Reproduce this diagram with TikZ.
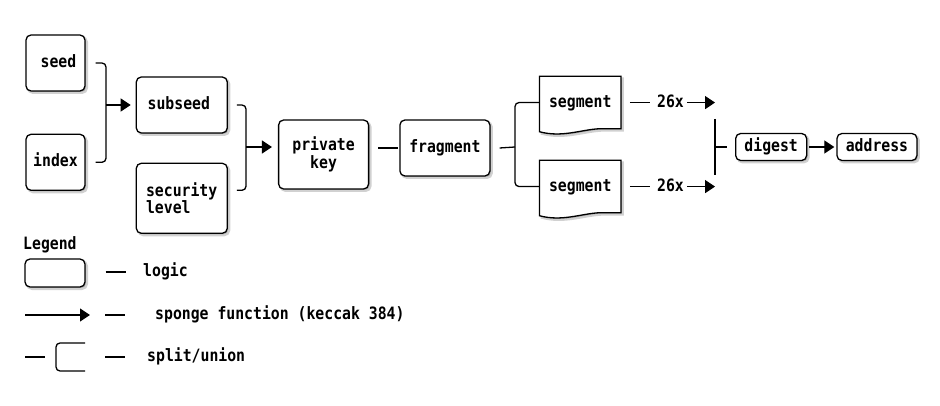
\documentclass[tikz,border=0pt]{standalone}
\usepackage{fontspec}
\setmonofont[FakeStretch=0.87]{DejaVu Sans Mono}
\usepackage{tikz}
\usetikzlibrary{positioning}
\usetikzlibrary{arrows.meta}
\tikzstyle{wire} = [line width=1.3pt]
\tikzstyle{arrow} = [line width=1.3pt,-{Triangle[length=10pt,width=13pt]}]
\tikzstyle{fork} = [line width=1.3pt,rounded corners=4pt]
\tikzstyle{shade} = [preaction={draw=black!18,line width=2pt,fill=black!30,transform canvas={shift={(2pt,-2pt)}}}]
\tikzstyle{logicbox} = [shade,draw,line width=1.3pt,rounded corners=5pt,fill=white,inner sep=0pt,align=center]
\tikzstyle{docshape} = [shade,draw,line width=1.3pt,fill=white]
\tikzstyle{word} = [inner sep=0pt,text height=12pt,text depth=3pt]

\begin{document}
\begin{tikzpicture}[x=1pt,y=-1pt,font=\ttfamily\bfseries\fontsize{17}{14}\selectfont]
	\useasboundingbox (0,0) rectangle (940,406);

	%Nodes
	\node[logicbox,word,minimum width=59pt,minimum height=56pt] (seed) at (55.5,63) {\hspace{6pt}seed};
	\node[logicbox,word,minimum width=59pt,minimum height=56pt,below=42pt of seed] (index) {index};
	\node[logicbox,word,minimum width=91pt,minimum height=56pt,below right=42pt and 50pt of seed.north east] (subseed) {subseed\hspace{6pt}};
	\node[logicbox,align=left,minimum width=91pt,minimum height=70pt,below=29pt of subseed] (seclevel) {security\\level\hspace{27pt}\hbox{}};
	\node[logicbox,minimum width=90pt,minimum height=69pt,below right=43pt and 50pt of subseed.north east] (pkey) {private\\key};
	\node[logicbox,word,minimum width=90pt,minimum height=56pt,below right=0pt and 30pt of pkey.north east] (fragment) {fragment};

	\node[word,minimum width=81pt,minimum height=52pt,below right=-43pt and 49pt of fragment.north east] (seg1) {};
	\node[word,minimum width=81pt,minimum height=52pt,below right=41pt and 49pt of fragment.north east] (seg2) {};

	\node[word,right=36pt of seg1.east] (rep1) {26x};
	\node[word,right=36pt of seg2.east] (rep2) {26x};

	\coordinate (j1) at (106,105);
	\coordinate (j2) at (246,147);
	\coordinate (j3) at (515,147);
	\coordinate (j4) at (715,147);

	\node[logicbox,word,minimum width=71pt,minimum height=27pt,right=20pt of j4] (digest) {digest};
	\node[logicbox,word,minimum width=80pt,minimum height=27pt,right=29pt of digest] (address) {address};

	%Segments
	\foreach \s in {seg1,seg2}{
		\path[docshape] (\s.north west) -- (\s.north east) -- (\s.south east) -- ([xshift=-22pt]\s.south east)
			.. controls ([xshift=-40pt,yshift=-1pt]\s.south east) and ([xshift=22pt,yshift=-9pt]\s.south west) .. ([yshift=-3pt]\s.south west) -- cycle;
	}
	\node[word] at (seg1.center) {segment};
	\node[word] at (seg2.center) {segment};

	%Lines
	\draw[fork] ([xshift=10pt]seed.east) -| (j1) |- ([xshift=10pt]index.east);
	\draw[arrow] (j1) -- ([xshift=-5pt]subseed.west);
	\draw[fork] ([xshift=9pt]subseed.east) -| (j2) |- ([xshift=9pt,yshift=8pt]seclevel.east);
	\draw[arrow,shorten >=6pt] (j2) -- (j2 -| pkey.west);
	\draw[wire] ([xshift=9pt]pkey.east |- fragment.west) -- ([xshift=-1pt]fragment.west);
	\draw[wire] ([xshift=9pt]fragment.east) -- (j3);
	\draw[fork] (seg1.west) -| (j3) |- (seg2.west);
	\draw[wire] ([xshift=9pt]seg1.east) -- ([xshift=-7pt]rep1.west);
	\draw[wire] ([xshift=9pt]seg2.east) -- ([xshift=-7pt]rep2.west);
	\draw[arrow] ([xshift=3pt]rep1.east) -- ([xshift=31pt]rep1.east);
	\draw[arrow] ([xshift=3pt]rep2.east) -- ([xshift=31pt]rep2.east);
	\draw[wire] ([yshift=28pt]j4) -- ([yshift=-28pt]j4);
	\draw[wire] (j4) -- ([xshift=-8pt]digest.west);
	\draw[arrow,shorten <=2pt,shorten >=2pt] (digest) -- (address);

	%Legend
	\node[word,anchor=west] (legend) at (23,245) {Legend};
	\node[logicbox,minimum width=60pt,minimum height=28pt] (lgbox) at (55,273) {};
	\node[word,anchor=west] (lglogic) at (143,272) {logic};
	\draw[wire] ([xshift=20pt]lgbox.east |- lglogic.west) -- ([xshift=40pt]lgbox.east |- lglogic.west);

	\coordinate (a0) at (25,315);
	\coordinate (a1) at (90,315);
	\draw[arrow] (a0) -- (a1);
	\node[word,anchor=west] (lgsponge) at (155,315) {sponge function (keccak 384)};
	\draw[wire] ([xshift=15pt]a1) -- ([xshift=35pt]a1);

	\coordinate (b0) at (25,357);
	\coordinate (b1) at (85,343);
	\coordinate (b2) at (85,371);
	\draw[wire] (b0) -- ([xshift=20pt]b0);
	\draw[fork] (b1) -- (56,343) -- (56,371) -- (b2);
	\node[word,anchor=west] (lgsplit) at (147,357) {split/union};
	\draw[wire] ([xshift=80pt]b0) -- ([xshift=100pt]b0);
\end{tikzpicture}
\end{document}
